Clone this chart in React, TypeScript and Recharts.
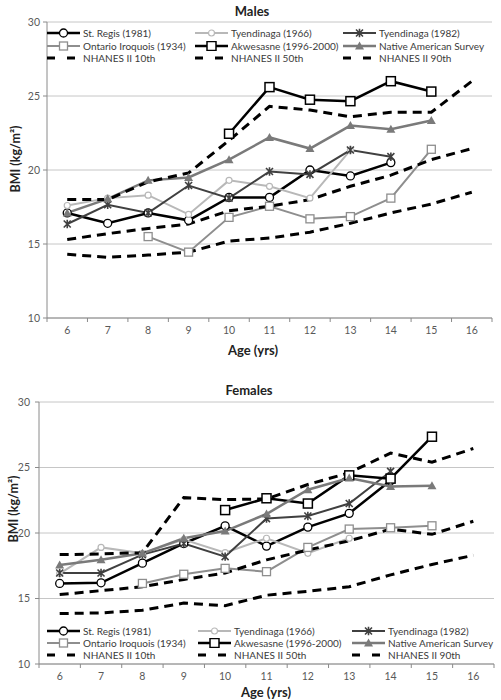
import React from 'react';
import { LineChart, Line, XAxis, YAxis, CartesianGrid } from 'recharts';

// ---------- data ----------
const ages = [6, 7, 8, 9, 10, 11, 12, 13, 14, 15, 16];
const xTicks = [5.5, 6, 6.5, 7, 7.5, 8, 8.5, 9, 9.5, 10, 10.5, 11, 11.5, 12, 12.5, 13, 13.5, 14, 14.5, 15, 15.5, 16, 16.5];
const yTicks = [10, 15, 20, 25, 30];

// Males
const stRegisM = [17.1, 16.4, 17.1, 16.6, 18.15, 18.15, 20.0, 19.6, 20.5, null, null];
const tyen66M = [17.6, 18.1, 18.3, 17.0, 19.3, 18.9, 18.1, 21.35, null, null, null];
const tyen82M = [16.35, 17.65, 17.1, 18.95, 18.1, 19.9, 19.7, 21.35, 20.9, null, null];
const ontarioM = [null, null, 15.5, 14.45, 16.8, 17.55, 16.7, 16.85, 18.1, 21.4, null];
const akwesasneM = [null, null, null, null, 22.45, 25.6, 24.75, 24.65, 26.0, 25.3, null];
const nativeM = [17.1, 18.05, 19.3, 19.5, 20.7, 22.2, 21.45, 23.0, 22.75, 23.35, null];
const p10M = [14.3, 14.1, 14.25, 14.45, 15.2, 15.4, 15.8, 16.4, 17.1, 17.7, 18.5];
const p50M = [15.3, 15.7, 16.05, 16.35, 17.25, 17.55, 18.0, 18.9, 19.65, 20.7, 21.45];
const p90M = [18.0, 18.0, 19.2, 19.8, 22.0, 24.3, 24.05, 23.6, 23.9, 23.9, 26.0];

// Females
const stRegisF = [16.15, 16.2, 17.7, 19.2, 20.55, 19.0, 20.45, 21.5, 24.0, null, null];
const tyen66F = [16.9, 18.9, 18.45, 19.5, 18.5, 19.6, 18.45, 19.6, null, null, null];
const tyen82F = [16.95, 16.95, 18.35, 19.2, 18.2, 21.1, 21.3, 22.25, 24.7, null, null];
const ontarioF = [null, null, 16.15, 16.85, 17.3, 17.05, 18.9, 20.3, 20.4, 20.55, null];
const akwesasneF = [null, null, null, null, 21.75, 22.65, 22.25, 24.4, 24.15, 27.35, null];
const nativeF = [17.55, 17.95, 18.45, 19.6, 20.15, 21.45, 23.3, 24.2, 23.55, 23.6, null];
const p10F = [13.85, 13.9, 14.1, 14.65, 14.45, 15.25, 15.55, 15.9, 16.8, 17.6, 18.3];
const p50F = [15.3, 15.6, 15.9, 16.45, 16.95, 17.95, 18.7, 19.4, 20.3, 19.9, 20.9];
const p90F = [18.35, 18.4, 18.5, 22.7, 22.55, 22.6, 23.7, 24.6, 26.1, 25.4, 26.45];

// ---------- series styling ----------
type Marker = 'circle' | 'smallCircle' | 'star' | 'square' | 'bigSquare' | 'triangle' | 'none';
interface SeriesDef { key: string; name: string; color: string; width: number; marker: Marker; dash?: string; }

const seriesDefs: SeriesDef[] = [
  { key: 'stRegis', name: 'St. Regis (1981)', color: '#000000', width: 2.5, marker: 'circle' },
  { key: 'tyen66', name: 'Tyendinaga (1966)', color: '#b8b8b8', width: 2, marker: 'smallCircle' },
  { key: 'tyen82', name: 'Tyendinaga (1982)', color: '#404040', width: 2, marker: 'star' },
  { key: 'ontario', name: 'Ontario Iroquois (1934)', color: '#8e8e8e', width: 2, marker: 'square' },
  { key: 'akwesasne', name: 'Akwesasne (1996-2000)', color: '#000000', width: 2.5, marker: 'bigSquare' },
  { key: 'native', name: 'Native American Survey', color: '#7a7a7a', width: 2.5, marker: 'triangle' },
  { key: 'p10', name: 'NHANES II 10th', color: '#000000', width: 3, marker: 'none', dash: '9 6' },
  { key: 'p50', name: 'NHANES II 50th', color: '#000000', width: 3, marker: 'none', dash: '9 6' },
  { key: 'p90', name: 'NHANES II 90th', color: '#000000', width: 3, marker: 'none', dash: '9 6' },
];

const buildRows = (s: (number | null)[][]) =>
  ages.map((age, i) => {
    const row: Record<string, number | null> = { age };
    seriesDefs.forEach((d, j) => { row[d.key] = s[j][i]; });
    return row;
  });

const maleRows = buildRows([stRegisM, tyen66M, tyen82M, ontarioM, akwesasneM, nativeM, p10M, p50M, p90M]);
const femaleRows = buildRows([stRegisF, tyen66F, tyen82F, ontarioF, akwesasneF, nativeF, p10F, p50F, p90F]);

const FONT = "Lato, 'Open Sans', sans-serif";
const AXIS_GRAY = '#8a8a8a';
const TEXT_GRAY = '#595959';

function renderMarker(m: Marker, color: string, cx: number, cy: number, key?: string | number) {
  switch (m) {
    case 'circle':
      return <circle key={key} cx={cx} cy={cy} r={4} fill="#fff" stroke={color} strokeWidth={1.3} />;
    case 'smallCircle':
      return <circle key={key} cx={cx} cy={cy} r={3} fill="#fff" stroke={color} strokeWidth={1.2} />;
    case 'star':
      return (
        <path key={key}
          d={`M${cx - 3.5},${cy - 3.5}L${cx + 3.5},${cy + 3.5}M${cx - 3.5},${cy + 3.5}L${cx + 3.5},${cy - 3.5}M${cx},${cy - 4.2}L${cx},${cy + 4.2}`}
          stroke={color} strokeWidth={1.6} fill="none" />
      );
    case 'square':
      return <rect key={key} x={cx - 4} y={cy - 4} width={8} height={8} fill="#fff" stroke={color} strokeWidth={1.3} />;
    case 'bigSquare':
      return <rect key={key} x={cx - 4.5} y={cy - 4.5} width={9} height={9} fill="#fff" stroke={color} strokeWidth={1.5} />;
    case 'triangle':
      return <polygon key={key} points={`${cx},${cy - 4.5} ${cx + 4.5},${cy + 3.5} ${cx - 4.5},${cy + 3.5}`} fill={color} />;
    default:
      return <g key={key} />;
  }
}

const XTick = (props: any) => {
  const { x, y, payload } = props;
  const v = payload.value;
  if (Number.isInteger(v)) {
    return (
      <text x={x} y={y + 12} textAnchor="middle" dominantBaseline="central" fill={TEXT_GRAY} fontSize={10.5} fontFamily={FONT}>
        {v}
      </text>
    );
  }
  return <line x1={x} x2={x} y1={y} y2={y + 4} stroke={AXIS_GRAY} strokeWidth={1} />;
};

function LegendIcon({ d }: { d: SeriesDef }) {
  return (
    <svg width={33} height={10} style={{ display: 'block', flex: '0 0 auto' }}>
      {d.dash ? (
        <line x1={0} x2={33} y1={5} y2={5} stroke={d.color} strokeWidth={3} strokeDasharray="8 12" />
      ) : (
        <>
          <line x1={0} x2={33} y1={5} y2={5} stroke={d.color} strokeWidth={d.width} />
          {renderMarker(d.marker, d.color, 16.5, 5)}
        </>
      )}
    </svg>
  );
}

function Legend({ cols, rows }: { cols: number[]; rows: number[] }) {
  return (
    <>
      {seriesDefs.map((d, i) => (
        <div key={d.key} style={{
          position: 'absolute', left: cols[i % 3], top: rows[Math.floor(i / 3)] - 6, height: 12,
          display: 'flex', alignItems: 'center', whiteSpace: 'nowrap',
        }}>
          <LegendIcon d={d} />
          <span style={{ marginLeft: 3, fontSize: 10, fontFamily: FONT, color: '#3a3a3a', lineHeight: '12px' }}>{d.name}</span>
        </div>
      ))}
    </>
  );
}

interface PanelProps {
  title: string; rows: any[]; top: number; height: number;
  margin: { top: number; right: number; bottom: number; left: number };
  yWidth: number; tickMargin: number; xHeight: number;
  titlePos: [number, number]; xLabelPos: [number, number]; yLabelPos: [number, number];
  legendCols: number[]; legendRows: number[];
}

function Panel(p: PanelProps) {
  return (
    <div style={{ position: 'absolute', left: 0, top: p.top, width: 501, height: p.height }}>
      <LineChart width={501} height={p.height} data={p.rows} margin={p.margin}>
        <CartesianGrid vertical={false} stroke="#c6c6c6" strokeWidth={1} />
        <XAxis dataKey="age" type="number" domain={[5.5, 16.5]} ticks={xTicks} interval={0}
          tick={<XTick />} tickLine={false} tickSize={0} tickMargin={0} height={p.xHeight}
          axisLine={{ stroke: AXIS_GRAY }} />
        <YAxis domain={[10, 30]} ticks={yTicks} width={p.yWidth} tickSize={4} tickMargin={p.tickMargin}
          tick={{ fill: TEXT_GRAY, fontSize: 10.5, fontFamily: FONT }}
          tickLine={{ stroke: AXIS_GRAY }} axisLine={{ stroke: AXIS_GRAY }} />
        {seriesDefs.map((d) => (
          <Line key={d.key} dataKey={d.key} name={d.name} type="linear" stroke={d.color} strokeWidth={d.width}
            strokeDasharray={d.dash} isAnimationActive={false} activeDot={false}
            dot={d.marker === 'none' ? false : (dp: any) =>
              (dp.cx == null || dp.cy == null || dp.value == null)
                ? <g key={dp.key} />
                : renderMarker(d.marker, d.color, dp.cx, dp.cy, dp.key)} />
        ))}
      </LineChart>
      <div style={{ position: 'absolute', left: p.titlePos[0], top: p.titlePos[1], transform: 'translate(-50%,-50%)',
        fontFamily: FONT, fontWeight: 'bold', fontSize: 13, color: '#222', whiteSpace: 'nowrap' }}>{p.title}</div>
      <div style={{ position: 'absolute', left: p.xLabelPos[0], top: p.xLabelPos[1], transform: 'translate(-50%,-50%)',
        fontFamily: FONT, fontWeight: 'bold', fontSize: 13, color: '#222', whiteSpace: 'nowrap', lineHeight: '14px' }}>Age (yrs)</div>
      <div style={{ position: 'absolute', left: p.yLabelPos[0], top: p.yLabelPos[1], transform: 'translate(-50%,-50%) rotate(-90deg)',
        fontFamily: FONT, fontWeight: 'bold', fontSize: 12.5, color: '#222', whiteSpace: 'nowrap' }}>BMI (kg/m²)</div>
      <Legend cols={p.legendCols} rows={p.legendRows} />
    </div>
  );
}

export default function App() {
  return (
    <div style={{ position: 'absolute', left: 0, top: 0, width: 501, height: 700, background: '#fff', overflow: 'hidden' }}>
      <Panel title="Males" rows={maleRows} top={0} height={352}
        margin={{ top: 22, right: 9, bottom: 4, left: 7 }} yWidth={40} tickMargin={3} xHeight={30}
        titlePos={[252, 11]} xLabelPos={[253, 350]} yLabelPos={[15, 159]}
        legendCols={[47, 195, 343]} legendRows={[33, 46, 58]} />
      <Panel title="Females" rows={femaleRows} top={352} height={348}
        margin={{ top: 50, right: 7, bottom: 4, left: 6 }} yWidth={33} tickMargin={5} xHeight={32}
        titlePos={[249, 38]} xLabelPos={[266, 340]} yLabelPos={[13, 157]}
        legendCols={[47, 198, 352]} legendRows={[279, 291, 303]} />
    </div>
  );
}
